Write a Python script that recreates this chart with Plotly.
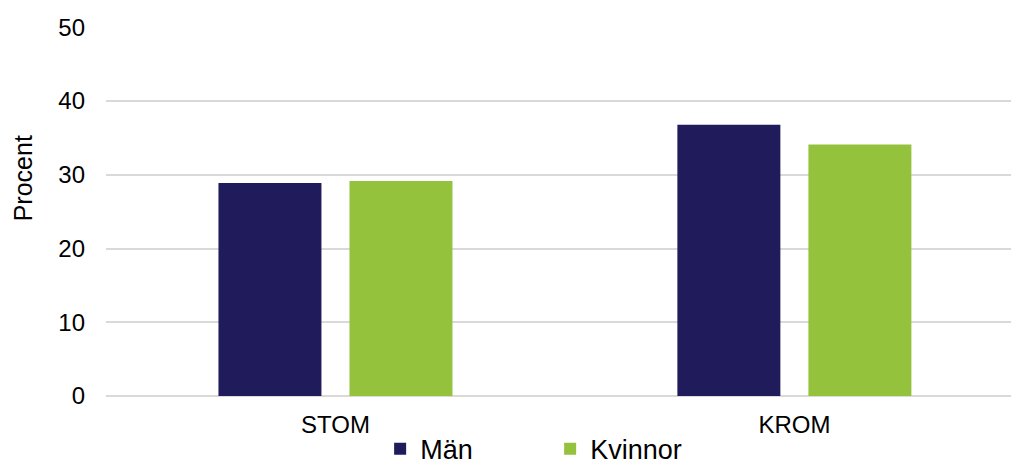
import plotly.graph_objects as go

categories = ["STOM", "KROM"]
man_values = [28.9, 36.8]
kvinnor_values = [29.15, 34.1]
y_ticks = [0, 10, 20, 30, 40, 50]

NAVY = "#201b5a"
GREEN = "#95c23d"
GRID = "#d9d9d9"
FONT = "Liberation Sans, Arial, sans-serif"

fig = go.Figure()
fig.add_trace(go.Bar(name="Män", x=categories, y=man_values,
                     marker=dict(color=NAVY, line=dict(width=0))))
fig.add_trace(go.Bar(name="Kvinnor", x=categories, y=kvinnor_values,
                     marker=dict(color=GREEN, line=dict(width=0))))

fig.update_layout(
    width=1011, height=466,
    margin=dict(l=106, r=0, t=27, b=70, autoexpand=False),
    paper_bgcolor="white", plot_bgcolor="white",
    font=dict(family=FONT, size=24, color="#000000"),
    barmode="group", bargap=0.429, bargroupgap=0.214,
    showlegend=True,
    legend=dict(orientation="h", xref="container", yref="container",
                x=0.376, xanchor="left", y=0.036, yanchor="middle",
                font=dict(size=27), entrywidth=125, entrywidthmode="pixels",
                itemwidth=30, bgcolor="rgba(0,0,0,0)"),
)

fig.update_xaxes(type="category", range=[-0.5, 1.472], automargin=False,
                 showgrid=False, showline=False, ticks="",
                 tickfont=dict(size=24), ticklabelstandoff=12)
fig.update_yaxes(range=[0, 50.05], tickvals=y_ticks, automargin=False,
                 showgrid=True, gridcolor=GRID, gridwidth=1.5,
                 zeroline=True, zerolinecolor=GRID, zerolinewidth=2,
                 showline=False, ticks="",
                 tickfont=dict(size=24), ticklabelstandoff=20)

fig.add_annotation(text="Procent", textangle=-90, showarrow=False,
                   xref="paper", yref="paper", x=-0.0917, y=0.59,
                   xanchor="center", yanchor="middle",
                   font=dict(size=25, family=FONT, color="#000000"))

fig.write_html("out.html")
